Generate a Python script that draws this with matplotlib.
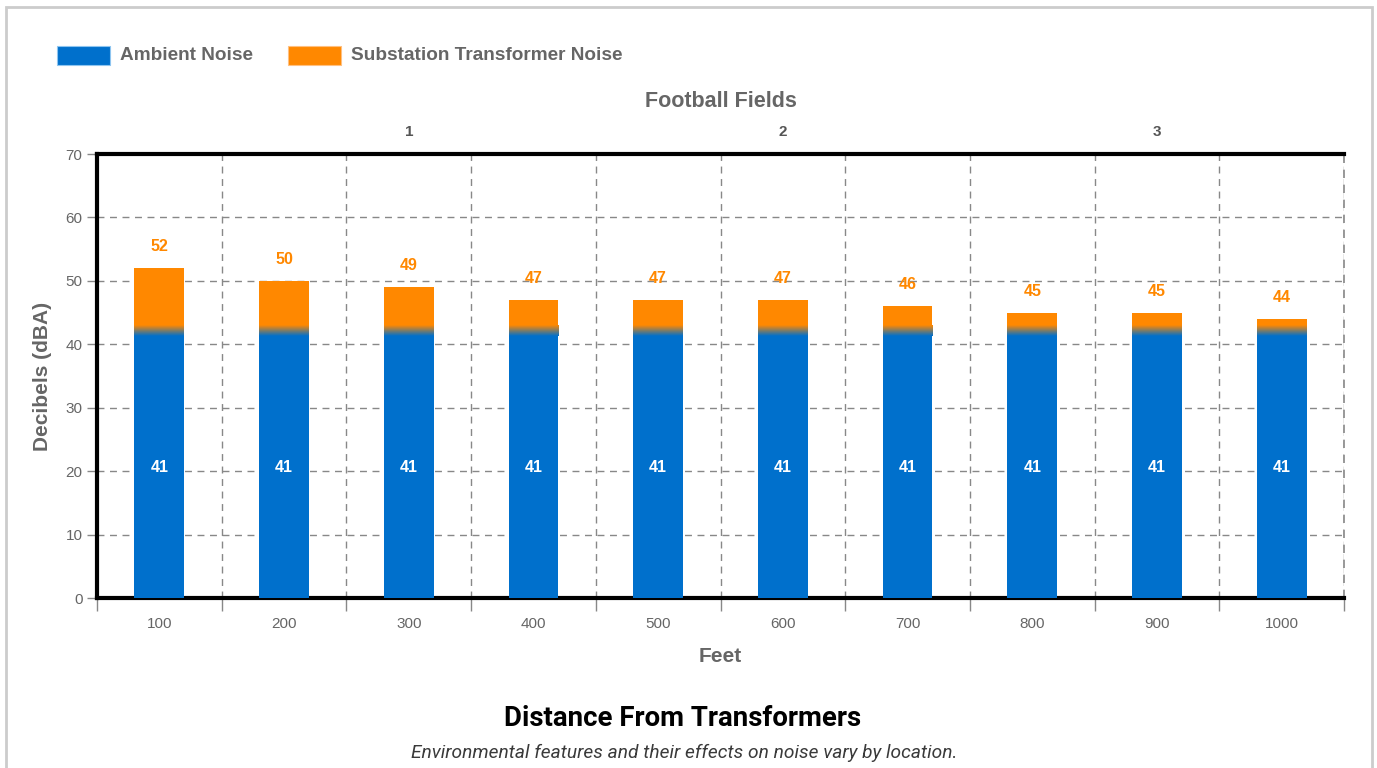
import numpy as np
import matplotlib.pyplot as plt
from matplotlib.patches import Rectangle
from matplotlib.colors import to_rgb

# Veriler
feet = ['100', '200', '300', '400', '500', '600', '700', '800', '900', '1000']
ambient = [41, 41, 41, 41, 41, 41, 41, 41, 41, 41]
total = [52, 50, 49, 47, 47, 47, 46, 45, 45, 44]
field_labels = ['1', '2', '3']
field_pos = [2, 5, 8]  # 300, 600, 900 ft

blue = '#0070CC'
orange = '#FF8800'
gray = '#666666'
fade_lo, fade_hi = 41.3, 43.0  # renk geçiş bandı

fig = plt.figure(figsize=(13.77, 7.68), dpi=100)
ax = fig.add_axes([97/1377, 170/768, 1247/1377, 444/768])

x = np.arange(len(feet))
w = 0.4

# Çubuklar: mavi alt kısım, turuncu üst kısım, arada geçiş
ax.bar(x, [fade_lo]*len(x), width=w, color=blue, zorder=3)
ax.bar(x, np.array(total) - fade_hi, bottom=fade_hi, width=w, color=orange, zorder=3)
c1 = np.array(to_rgb(blue))
c2 = np.array(to_rgb(orange))
t = np.linspace(0, 1, 50)[:, None]
grad = (c1 * (1 - t) + c2 * t)[:, None, :]
for xi in x:
    ax.imshow(grad, extent=[xi - w/2, xi + w/2, fade_lo, fade_hi], origin='lower',
              aspect='auto', interpolation='bilinear', zorder=3)

# Değer etiketleri
for xi, a, tot in zip(x, ambient, total):
    ax.text(xi, a / 2, str(a), color='white', fontsize=11.5, fontweight='bold',
            ha='center', va='center', zorder=4, family='Liberation Sans')
    ax.text(xi, tot + 2.2, str(tot), color=orange, fontsize=11.5, fontweight='bold',
            ha='center', va='bottom', zorder=4, family='Liberation Sans')

ax.set_xlim(-0.5, len(x) - 0.5)
ax.set_ylim(0, 70)

# Eksenler
ax.set_xticks(np.arange(-0.5, len(x)), labels=[])
ax.set_xticks(x, labels=feet, minor=True)
ax.tick_params(axis='x', which='major', length=9, color='#888888', width=1)
ax.tick_params(axis='x', which='minor', length=0, pad=14, labelsize=11, labelcolor=gray)
ax.set_yticks(range(0, 71, 10))
ax.tick_params(axis='y', length=7, color='#888888', width=1, labelsize=11, labelcolor=gray)
for lab in ax.get_xticklabels(minor=True) + ax.get_yticklabels():
    lab.set_family('Liberation Sans')

ax.grid(True, which='major', color='#888888', linestyle=(0, (5, 4)), linewidth=1, zorder=0)
ax.axvline(len(x) - 0.5, color='#888888', linestyle=(0, (5, 4)), linewidth=1.2,
           zorder=1, clip_on=False)
for s in ['left', 'bottom', 'top']:
    ax.spines[s].set_linewidth(3)
    ax.spines[s].set_color('black')
ax.spines['right'].set_visible(False)

ax.set_xlabel('Feet', fontsize=15, fontweight='bold', color=gray, labelpad=11,
              family='Liberation Sans')
ax.set_ylabel('Decibels (dBA)', fontsize=15, fontweight='bold', color=gray, labelpad=10,
              family='Liberation Sans')

# Üst eksen: futbol sahası
top = ax.twiny()
top.set_xlim(ax.get_xlim())
top.set_xticks(field_pos, labels=field_labels)
top.tick_params(axis='x', length=0, pad=11, labelsize=11, labelcolor='#555555')
for lab in top.get_xticklabels():
    lab.set_fontweight('bold')
    lab.set_family('Liberation Sans')
for s in top.spines.values():
    s.set_visible(False)
top.set_xlabel('Football Fields', fontsize=15.5, fontweight='bold', color=gray, labelpad=13,
               family='Liberation Sans')

# Lejant
fig.patches.append(Rectangle((57/1377, 1 - 65/768), 53/1377, 19/768, transform=fig.transFigure,
                             facecolor=blue, edgecolor='#8ec5f0', lw=0.8))
fig.text(120/1377, 1 - 55/768, 'Ambient Noise', fontsize=13.7, fontweight='bold', color=gray,
         va='center', family='Liberation Sans')
fig.patches.append(Rectangle((288/1377, 1 - 65/768), 53/1377, 19/768, transform=fig.transFigure,
                             facecolor=orange, edgecolor='#ffc080', lw=0.8))
fig.text(351/1377, 1 - 55/768, 'Substation Transformer Noise', fontsize=13.7, fontweight='bold',
         color=gray, va='center', family='Liberation Sans')

# Başlık
fig.text(683/1377, 1 - 718/768, 'Distance From Transformers', fontsize=19.9, fontweight='bold',
         color='black', ha='center', va='center', family='Roboto')
fig.text(684/1377, 1 - 753/768, 'Environmental features and their effects on noise vary by location.',
         fontsize=13.8, style='italic', color='#3a3a3a', ha='center',
         va='center', family='Roboto')

# Çerçeve
fig.patches.append(Rectangle((6/1377, -0.05), 1366/1377, 1.05 - 7/768, transform=fig.transFigure,
                             facecolor='none', edgecolor='#cccccc', lw=2))

fig.savefig('out.png', dpi=100)
